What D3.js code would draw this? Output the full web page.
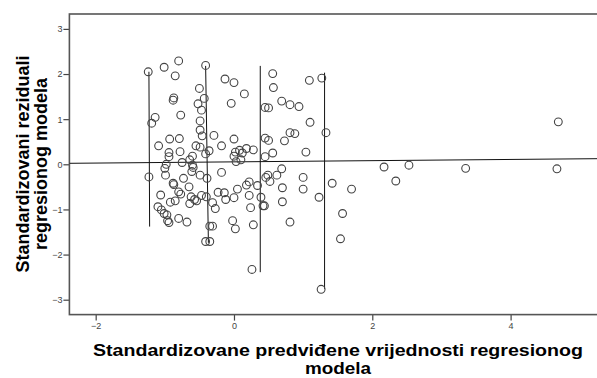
<!DOCTYPE html>
<html>
<head>
<meta charset="utf-8">
<script src="https://cdn.jsdelivr.net/npm/d3@7"></script>
<style>
  html, body { margin: 0; padding: 0; background: #fff; }
  svg { display: block; font-family: "Liberation Sans", Arial, sans-serif; }
</style>
</head>
<body>
<svg id="chart" width="597" height="378"></svg>
<script>
// standardized predicted value (x) and standardized residual (y)
const predicted = [
  -1.24, -1.01, -0.80, -0.85, -0.41, -0.13, 0.00, 0.15, -0.04, -0.50,
  -0.87, -0.88, -0.43, -0.52, -0.47, -0.77, -1.14, -1.19, -0.49, -0.49,
  -0.46, -0.29, -0.93, -0.79, 0.00, -1.09, -0.55, -0.49, -0.36, -0.41,
  -0.18, -0.94, -0.94, -0.78, 0.02, 0.08, 0.12, 0.18, 0.28, 0.00,
  0.10, 0.03, 0.56, 0.57, 1.09, 1.27, 0.45, 0.50, 0.69, 0.81,
  0.94, 1.10, 1.33, 0.81, 0.88, 0.73, 0.45, 0.50, 1.04, 0.56,
  0.45, -0.64, -0.60, -0.75, -1.23, -0.98, -1.00, -0.99, -0.60, -0.59,
  -0.61, -0.73, -0.49, -0.39, -0.18, -0.88, -0.87, -0.65, -1.06, -0.80,
  -0.77, -0.92, -0.85, -0.64, -0.62, -0.57, -0.54, -0.47, -0.40, -0.31,
  -0.27, -0.23, -0.14, -0.12, 0.00, 0.05, 0.18, 0.22, 0.34, 0.22,
  0.24, -0.02, 0.02, 0.28, -0.35, -0.31, -0.41, -0.35, 0.26, -1.10,
  -1.05, -1.01, -0.97, -0.94, -0.96, -0.80, -0.68, 0.69, 0.49, 0.46,
  0.62, 0.52, 0.39, 0.42, 0.44, 0.70, 0.70, 1.00, 1.00, 1.23,
  1.42, 1.70, 1.57, 1.54, 0.81, 1.26, 2.17, 2.34, 2.53, 3.35,
  4.69, 4.67
];
const residual = [
  2.05, 2.15, 2.29, 1.96, 2.19, 1.89, 1.81, 1.56, 1.35, 1.68,
  1.47, 1.42, 1.46, 1.34, 1.20, 1.09, 1.04, 0.91, 0.96, 0.76,
  0.63, 0.64, 0.56, 0.57, 0.56, 0.41, 0.41, 0.38, 0.30, 0.23,
  0.41, 0.26, 0.17, 0.28, 0.27, 0.31, 0.25, 0.35, 0.32, 0.18,
  0.10, 0.06, 2.01, 1.70, 1.86, 1.91, 1.26, 1.25, 1.40, 1.32,
  1.28, 0.93, 0.70, 0.70, 0.68, 0.52, 0.58, 0.53, 0.27, 0.25,
  0.17, 0.10, 0.18, 0.04, -0.28, 0.00, -0.09, -0.24, -0.02, -0.07,
  -0.16, -0.31, -0.24, -0.31, -0.18, -0.42, -0.45, -0.50, -0.68, -0.61,
  -0.66, -0.84, -0.81, -0.87, -0.72, -0.78, -0.81, -0.69, -0.72, -0.85,
  -0.98, -0.62, -0.63, -0.78, -0.74, -0.55, -0.46, -0.39, -0.47, -0.69,
  -0.96, -1.25, -1.43, -1.34, -1.37, -1.37, -1.71, -1.71, -2.33, -0.94,
  -1.01, -1.09, -1.12, -1.29, -1.25, -1.20, -1.28, -0.10, -0.24, -0.29,
  -0.24, -0.38, -0.73, -0.92, -0.92, -0.52, -0.83, -0.29, -0.55, -0.73,
  -0.42, -0.55, -1.09, -1.65, -1.28, -2.77, -0.06, -0.37, -0.02, -0.09,
  0.94, -0.10
];

// vertical spike lines: x top, y top, x bottom, y bottom
const spikeX1 = [-1.23, -0.41, 0.38, 1.31];
const spikeY1 = [2.05, 2.18, 2.18, 2.03];
const spikeX2 = [-1.22, -0.37, 0.38, 1.31];
const spikeY2 = [-1.38, -1.74, -2.39, -2.76];

// fit line end points
const fitX = [-2.38, 5.30];
const fitY = [0.022, 0.125];

const yTicks = [-3, -2, -1, 0, 1, 2, 3];
const xTicks = [-2, 0, 2, 4];

const xTitle = ["Standardizovane predviđene vrijednosti regresionog", "modela"];
const xTitleWidth = [490, 66];
const yTitle = ["Standardizovani reziduali", "regresionog modela"];

const svg = d3.select("#chart");

const x = d3.scaleLinear().domain([-2.38, 5.3]).range([69.4, 600.5]);
const y = d3.scaleLinear().domain([-3.33, 3.33]).range([314.6, 14]);

svg.append("defs").append("clipPath").attr("id", "plot")
  .append("rect")
  .attr("x", x(-2.38)).attr("y", y(3.33))
  .attr("width", x(5.3) - x(-2.38)).attr("height", y(-3.33) - y(3.33));

// axes
const yAxis = svg.append("g")
  .attr("transform", `translate(${x(-2.38)},0)`)
  .call(d3.axisLeft(y).tickValues(yTicks).tickSize(6).tickPadding(1).tickFormat(d3.format("d")));
const xAxis = svg.append("g")
  .attr("transform", `translate(0,${y(-3.33)})`)
  .call(d3.axisBottom(x).tickValues(xTicks).tickSize(6).tickPadding(2).tickFormat(d3.format("d")));

[yAxis, xAxis].forEach(a => {
  a.select(".domain").remove();
  a.selectAll(".tick line").attr("stroke", "#444").attr("stroke-width", 1.2);
  a.selectAll(".tick text")
    .attr("fill", "#444")
    .style("font-size", "9px")
    .style("font-family", "'Liberation Sans', Arial, sans-serif");
});

// frame
svg.append("rect")
  .attr("x", x(-2.38)).attr("y", y(3.33))
  .attr("width", x(5.3) - x(-2.38)).attr("height", y(-3.33) - y(3.33))
  .attr("fill", "none").attr("stroke", "#555").attr("stroke-width", 1.6);

const plot = svg.append("g").attr("clip-path", "url(#plot)");

// fit line
plot.append("line")
  .attr("x1", x(fitX[0])).attr("y1", y(fitY[0]))
  .attr("x2", x(fitX[1])).attr("y2", y(fitY[1]))
  .attr("stroke", "#111").attr("stroke-width", 1);

// spikes
plot.selectAll("line.spike")
  .data(d3.range(spikeX1.length))
  .enter()
  .append("line")
  .attr("class", "spike")
  .attr("x1", i => x(spikeX1[i])).attr("y1", i => y(spikeY1[i]))
  .attr("x2", i => x(spikeX2[i])).attr("y2", i => y(spikeY2[i]))
  .attr("stroke", "#111").attr("stroke-width", 1);

// points
plot.selectAll("circle")
  .data(d3.range(predicted.length))
  .enter()
  .append("circle")
  .attr("cx", i => x(predicted[i]))
  .attr("cy", i => y(residual[i]))
  .attr("r", 3.9)
  .attr("fill", "none")
  .attr("stroke", "#444")
  .attr("stroke-width", 1.1);

// titles
svg.selectAll("text.xtitle")
  .data(xTitle)
  .enter()
  .append("text")
  .attr("class", "xtitle")
  .attr("x", 338)
  .attr("y", (d, i) => i ? 374 : 356)
  .attr("text-anchor", "middle")
  .attr("textLength", (d, i) => xTitleWidth[i])
  .attr("lengthAdjust", "spacingAndGlyphs")
  .style("font-size", "16px").style("font-weight", "bold")
  .text(d => d);

svg.selectAll("text.ytitle")
  .data(yTitle)
  .enter()
  .append("text")
  .attr("class", "ytitle")
  .attr("transform", (d, i) => `translate(${i ? 47 : 28.5},164) rotate(-90)`)
  .attr("text-anchor", "middle")
  .style("font-size", "18px").style("font-weight", "bold")
  .text(d => d);
</script>
</body>
</html>
